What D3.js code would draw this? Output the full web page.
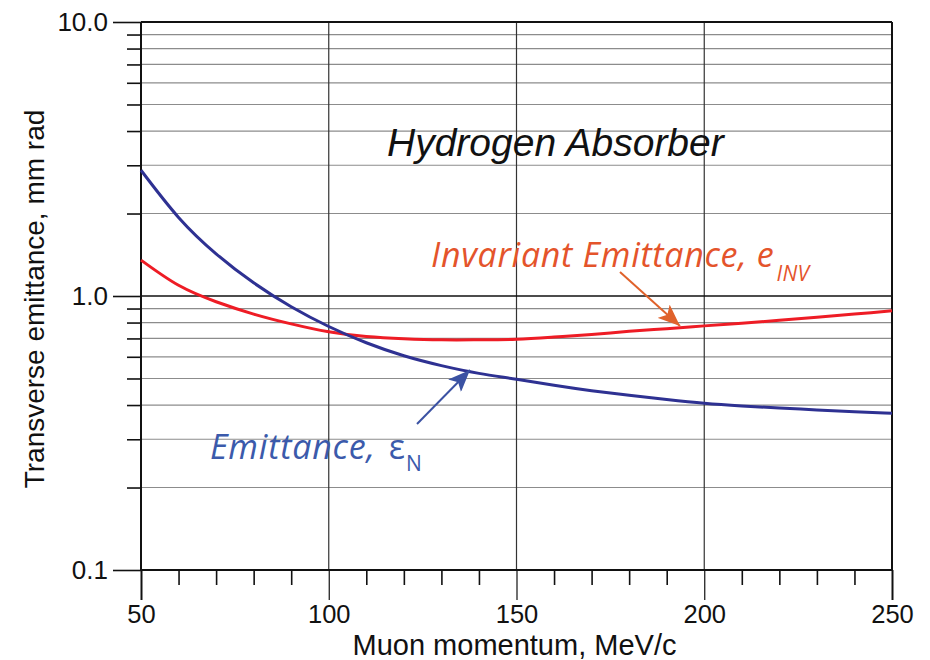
<!DOCTYPE html>
<html>
<head>
<meta charset="utf-8">
<script src="https://cdn.jsdelivr.net/npm/d3@7"></script>
<style>
  html, body { margin: 0; padding: 0; background: #fff; }
  svg { display: block; }
</style>
</head>
<body>
<svg id="chart" width="930" height="660"></svg>
<script>
// Muon momentum (MeV/c) at which the emittances are sampled
const momentum = [50, 60, 70, 80, 90, 100, 110, 120, 130, 140, 150,
                  160, 170, 180, 190, 200, 210, 220, 230, 240, 250];
// Normalised transverse emittance, mm rad
const emittanceN = [2.877, 1.936, 1.426, 1.117, 0.914, 0.774, 0.675, 0.605, 0.557, 0.522, 0.497,
                    0.472, 0.451, 0.434, 0.419, 0.406, 0.397, 0.390, 0.384, 0.378, 0.373];
// Invariant emittance, mm rad
const emittanceInv = [1.352, 1.094, 0.953, 0.859, 0.791, 0.740, 0.711, 0.698, 0.692, 0.692, 0.695,
                      0.708, 0.724, 0.743, 0.760, 0.778, 0.796, 0.815, 0.836, 0.859, 0.883];

const xMajorTicks = [50, 100, 150, 200, 250];
const xMinorTicks = [60, 70, 80, 90, 110, 120, 130, 140, 160, 170, 180, 190, 210, 220, 230, 240];
const yMajorTicks = [0.1, 1, 10];
const yMinorTicks = [0.2, 0.3, 0.4, 0.5, 0.6, 0.7, 0.8, 0.9, 2, 3, 4, 5, 6, 7, 8, 9];

const svg = d3.select("#chart");
svg.append("rect").attr("width", 930).attr("height", 660).attr("fill", "#fff");

const x = d3.scaleLinear().domain([50, 250]).range([141, 892]);
const y = d3.scaleLog().domain([0.1, 10]).range([570, 22]);

const font = '"Liberation Sans", Arial, Helvetica, sans-serif';
const annoFont = '"Open Sans", "Noto Sans", sans-serif';

// horizontal grid at each minor decade step
svg.append("g").selectAll("line").data(yMinorTicks).join("line")
  .attr("x1", x(50)).attr("x2", x(250))
  .attr("y1", d => y(d)).attr("y2", d => y(d))
  .attr("stroke", "#8c8c8c").attr("stroke-width", 1.2);

// vertical grid at the major momentum ticks
svg.append("g").selectAll("line").data(xMajorTicks.slice(1, -1)).join("line")
  .attr("x1", d => x(d)).attr("x2", d => x(d))
  .attr("y1", y(10)).attr("y2", y(0.1))
  .attr("stroke", "#333").attr("stroke-width", 1.2);

// y axis: major ticks with labels, then minor ticks
const yAxisMajor = d3.axisLeft(y).tickValues(yMajorTicks).tickSize(28).tickPadding(5)
  .tickFormat(d3.format(".1f"));
const gyMaj = svg.append("g").attr("transform", `translate(${x(50)},0)`).call(yAxisMajor);
gyMaj.select(".domain").remove();
gyMaj.selectAll("line").attr("stroke", "#111").attr("stroke-width", 1.6);
gyMaj.selectAll("text").attr("font-family", font).attr("font-size", 26).attr("fill", "#111");

const yAxisMinor = d3.axisLeft(y).tickValues(yMinorTicks).tickSize(14).tickFormat("");
const gyMin = svg.append("g").attr("transform", `translate(${x(50)},0)`).call(yAxisMinor);
gyMin.select(".domain").remove();
gyMin.selectAll("line").attr("stroke", "#111").attr("stroke-width", 1.6);

// decade lines across the plot
svg.append("g").selectAll("line").data(yMajorTicks).join("line")
  .attr("x1", x(50)).attr("x2", x(250))
  .attr("y1", d => y(d)).attr("y2", d => y(d))
  .attr("stroke", "#111").attr("stroke-width", d => d === 1 ? 1.3 : 2);

// x axis: major ticks with labels, then minor ticks
const xAxisMajor = d3.axisBottom(x).tickValues(xMajorTicks).tickSize(30).tickPadding(5)
  .tickFormat(d3.format("d"));
const gxMaj = svg.append("g").attr("transform", `translate(0,${y(0.1)})`).call(xAxisMajor);
gxMaj.select(".domain").remove();
gxMaj.selectAll("line").attr("stroke", "#111").attr("stroke-width", d => (d === 50 || d === 250) ? 2 : 1.2);
gxMaj.selectAll("text").attr("font-family", font).attr("font-size", 25.5).attr("fill", "#111");

const xAxisMinor = d3.axisBottom(x).tickValues(xMinorTicks).tickSize(15).tickFormat("");
const gxMin = svg.append("g").attr("transform", `translate(0,${y(0.1)})`).call(xAxisMinor);
gxMin.select(".domain").remove();
gxMin.selectAll("line").attr("stroke", "#111").attr("stroke-width", 1.6);

// frame: left and right edges
svg.append("line").attr("x1", x(50)).attr("x2", x(50)).attr("y1", y(10)).attr("y2", y(0.1))
  .attr("stroke", "#111").attr("stroke-width", 2);
svg.append("line").attr("x1", x(250)).attr("x2", x(250)).attr("y1", y(10)).attr("y2", y(0.1))
  .attr("stroke", "#111").attr("stroke-width", 2);

// axis titles
svg.append("text")
  .attr("x", (x(50) + x(250)) / 2 - 2).attr("y", 655)
  .attr("text-anchor", "middle")
  .attr("font-family", font).attr("font-size", 29).attr("fill", "#111")
  .text("Muon momentum, MeV/c");
svg.append("text")
  .attr("transform", `translate(44,${(y(10) + y(0.1)) / 2 + 3}) rotate(-90)`)
  .attr("text-anchor", "middle")
  .attr("font-family", font).attr("font-size", 28).attr("fill", "#111")
  .text("Transverse emittance, mm rad");

// curves
const line = d3.line().x(d => x(d[0])).y(d => y(d[1])).curve(d3.curveNatural);
svg.append("path").datum(d3.zip(momentum, emittanceInv))
  .attr("d", line).attr("fill", "none").attr("stroke", "#ee1c25").attr("stroke-width", 3);
svg.append("path").datum(d3.zip(momentum, emittanceN))
  .attr("d", line).attr("fill", "none").attr("stroke", "#2e3192").attr("stroke-width", 3);

// title inside the plot
svg.append("text")
  .attr("x", 387).attr("y", 156)
  .attr("font-family", font).attr("font-style", "italic").attr("font-size", 39)
  .attr("fill", "#111")
  .text("Hydrogen Absorber");

// arrowheads
const defs = svg.append("defs");
function arrowMarker(id, color) {
  defs.append("marker").attr("id", id)
    .attr("viewBox", "0 0 22 18").attr("refX", 22).attr("refY", 9)
    .attr("markerWidth", 22).attr("markerHeight", 18)
    .attr("markerUnits", "userSpaceOnUse").attr("orient", "auto")
    .append("path").attr("d", "M0,0 L22,9 L0,18 L5,9 Z").attr("fill", color);
}
arrowMarker("arrInv", "#e0622b");
arrowMarker("arrN", "#3b52a3");

// invariant emittance label and pointer
const invLabel = svg.append("text")
  .attr("x", 431).attr("y", 267)
  .attr("font-family", annoFont).attr("font-style", "italic").attr("font-size", 34)
  .attr("letter-spacing", 0.7)
  .attr("fill", "#e4542b");
invLabel.append("tspan").text("Invariant Emittance, e");
invLabel.append("tspan").attr("font-size", 21).attr("dy", 14).attr("dx", 2).attr("letter-spacing", 0.3).text("INV");

svg.append("line")
  .attr("x1", 620).attr("y1", 272).attr("x2", 680).attr("y2", 326)
  .attr("stroke", "#e0622b").attr("stroke-width", 2)
  .attr("marker-end", "url(#arrInv)");

// normalised emittance label and pointer
const nLabel = svg.append("text")
  .attr("x", 210).attr("y", 459)
  .attr("font-family", annoFont).attr("font-size", 34)
  .attr("fill", "#3b5aab");
nLabel.append("tspan").attr("font-style", "italic").attr("letter-spacing", 0.8).text("Emittance,");
nLabel.append("tspan").attr("dx", 13).text("ε");
nLabel.append("tspan").attr("font-size", 21).attr("dy", 12).attr("dx", 1).text("N");

svg.append("line")
  .attr("x1", 417).attr("y1", 424).attr("x2", 470).attr("y2", 370)
  .attr("stroke", "#3b52a3").attr("stroke-width", 2)
  .attr("marker-end", "url(#arrN)");
</script>
</body>
</html>
